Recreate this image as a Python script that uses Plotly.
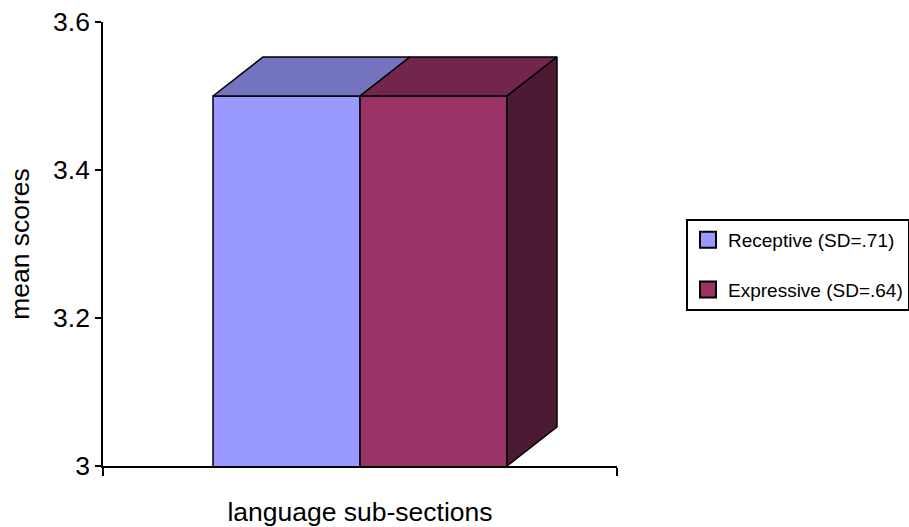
import plotly.graph_objects as go

categories = ["language sub-sections"]
series_names = ["Receptive (SD=.71)", "Expressive (SD=.64)"]
series_values = [3.5, 3.5]
front_colors = ["#9999FF", "#993366"]
top_colors = ["#7373BF", "#73264D"]
side_colors = ["#5C5C99", "#4D1A33"]
y_tick_vals = [3, 3.2, 3.4, 3.6]
y_tick_text = ["3", "3.2", "3.4", "3.6"]

FONT = "Liberation Sans, Arial, sans-serif"
AX_SIZE = 26.5
bargap = 0.428
n = len(series_values)
bar_w = (1 - bargap) / n
depth_x = 0.34 * bar_w          # depth offset in x-axis units
depth_y = 0.0527                # depth offset in y-axis units
y_base = 3.0

W, H = 909, 527

fig = go.Figure()

# front faces as real bars
for i, (name, val) in enumerate(zip(series_names, series_values)):
    fig.add_trace(go.Bar(
        x=[0], y=[val], name=name, showlegend=False,
        marker=dict(color=front_colors[i], line=dict(color="black", width=1.5)),
        offsetgroup=str(i),
    ))

line = dict(color="black", width=1.5)
# top faces
for i, val in enumerate(series_values):
    x0 = -(1 - bargap) / 2 + i * bar_w
    x1 = x0 + bar_w
    fig.add_trace(go.Scatter(
        x=[x0, x0 + depth_x, x1 + depth_x, x1, x0],
        y=[val, val + depth_y, val + depth_y, val, val],
        mode="lines", fill="toself", fillcolor=top_colors[i], line=line,
        showlegend=False, hoverinfo="skip",
    ))
# side face of the last (right-most) bar
i = n - 1
val = series_values[i]
x1 = -(1 - bargap) / 2 + (i + 1) * bar_w
fig.add_trace(go.Scatter(
    x=[x1, x1 + depth_x, x1 + depth_x, x1, x1],
    y=[val, val + depth_y, y_base + depth_y, y_base, val],
    mode="lines", fill="toself", fillcolor=side_colors[i], line=line,
    showlegend=False, hoverinfo="skip",
))

# legend entries
for i, name in enumerate(series_names):
    fig.add_trace(go.Scatter(
        x=[None], y=[None], mode="markers", name=name,
        legendgroup=str(i),
        marker=dict(symbol="square", size=16, color=front_colors[i],
                    line=dict(color="black", width=2)),
    ))

fig.update_layout(
    width=W, height=H, autosize=False,
    margin=dict(l=103, r=292, t=22, b=61),
    paper_bgcolor="white", plot_bgcolor="white",
    barmode="group", bargap=bargap, bargroupgap=0,
    font=dict(family=FONT, color="black", size=AX_SIZE),
    legend=dict(
        xref="container", yref="container",
        x=686 / W, y=1 - 219 / H, xanchor="left", yanchor="top",
        font=dict(family=FONT, size=19, color="black"),
        bordercolor="black", borderwidth=2, bgcolor="white",
        traceorder="grouped", tracegroupgap=22,
    ),
    xaxis=dict(
        range=[-0.5, 0.5], showline=True, linecolor="black", linewidth=1.5,
        tickvals=[-0.5, 0.5], ticks="outside", ticklen=8, tickwidth=1.5,
        tickcolor="black", showticklabels=False, showgrid=False, zeroline=False,
        automargin=False,
        title=dict(text=categories[0], standoff=30,
                   font=dict(family=FONT, size=AX_SIZE)),
    ),
    yaxis=dict(
        range=[3, 3.6], showline=True, linecolor="black", linewidth=1.5,
        tickvals=y_tick_vals, ticktext=y_tick_text, ticks="outside",
        ticklen=6, tickwidth=1.5, tickcolor="black",
        showgrid=False, zeroline=False, automargin=False,
        ticklabeloverflow="allow",
        tickfont=dict(family=FONT, size=AX_SIZE),
        title=dict(text="mean scores", standoff=16,
                   font=dict(family=FONT, size=AX_SIZE)),
    ),
)

fig.write_html(
    "out.html",
    config={"displayModeBar": False},
    post_script="document.body.style.margin='0';document.body.style.overflow='hidden';",
)
